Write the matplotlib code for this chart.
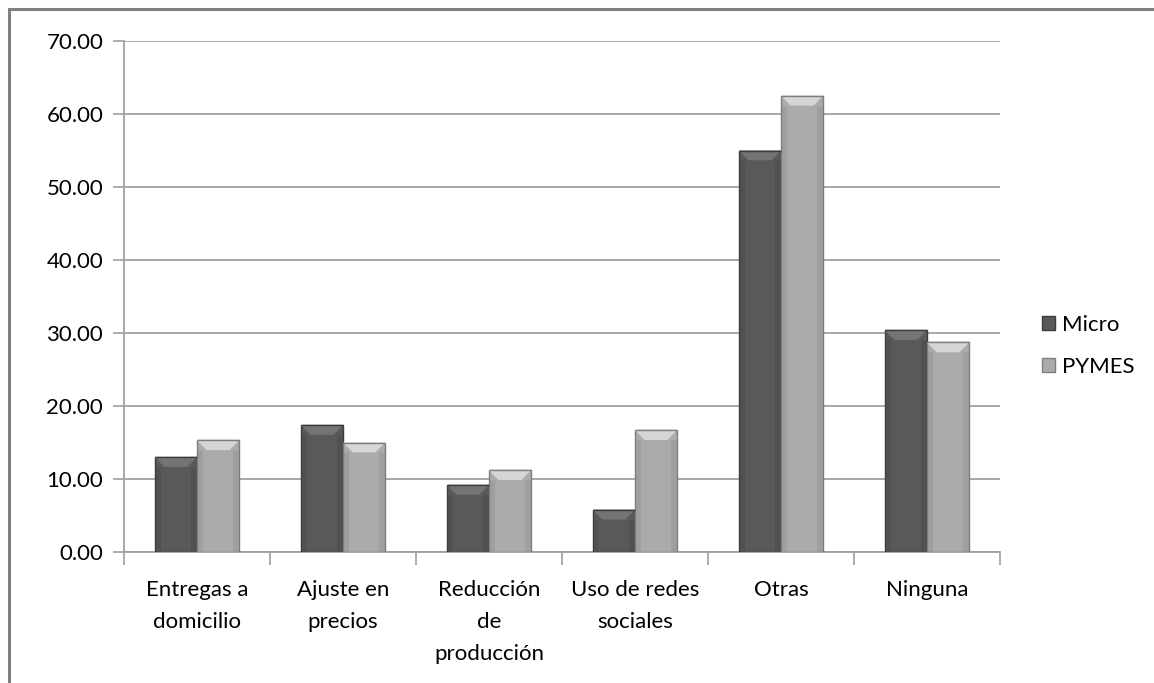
import matplotlib.pyplot as plt
import numpy as np
from matplotlib.patches import Polygon, Rectangle, Patch

plt.rcParams['font.family'] = ['Lato', 'DejaVu Sans']

categories = ["Entregas a\ndomicilio", "Ajuste en\nprecios", "Reducción\nde\nproducción",
              "Uso de redes\nsociales", "Otras", "Ninguna"]
micro = [13.0, 17.4, 9.2, 5.8, 55.0, 30.4]
pymes = [15.3, 15.0, 11.2, 16.7, 62.5, 28.7]
series = ["Micro", "PYMES"]

# face / bevel / edge colours per series
styles = {
    "Micro": ("#595959", "#747474", "#3c3c3c"),
    "PYMES": ("#ababab", "#d6d6d6", "#7e7e7e"),
}

fig = plt.figure(figsize=(11.54, 6.83), dpi=100)
ax = fig.add_axes([124 / 1154, 1 - 552 / 683, 876 / 1154, 511 / 683])

x = np.arange(len(categories))
width = 0.288


def bevel_bars(xs, values, name):
    face, light, edge = styles[name]
    bars = ax.bar(xs, values, width, color=face, edgecolor=edge, linewidth=1.0, zorder=3)
    for b in bars:
        x0, w, h = b.get_x(), b.get_width(), b.get_height()
        dx, dy = 0.065, 1.35
        top = Polygon([(x0, h), (x0 + w, h), (x0 + w - dx, h - dy), (x0 + dx, h - dy)],
                      closed=True, facecolor=light, edgecolor="none", zorder=4)
        ax.add_patch(top)
        # darker strip along the sides for the bevel look
        for sx in (x0, x0 + w - dx * 0.6):
            ax.add_patch(Rectangle((sx, 0), dx * 0.6, h - dy, facecolor=edge,
                                   alpha=0.25, edgecolor="none", zorder=4))
        ax.add_patch(Rectangle((x0, h), w, 0, edgecolor=edge, linewidth=1.0,
                               fill=False, zorder=5))
    return bars


bevel_bars(x - width / 2, micro, "Micro")
bevel_bars(x + width / 2, pymes, "PYMES")

ax.set_xlim(-0.5, len(categories) - 0.5)
ax.set_ylim(0, 70)
ax.set_yticks(np.arange(0, 71, 10))
ax.set_yticklabels([f"{v:.2f}" for v in np.arange(0, 71, 10)], fontsize=16)
ax.yaxis.grid(True, color="#a0a0a0", linewidth=1.3, zorder=0)
ax.set_axisbelow(True)

ax.set_xticks(x)
ax.set_xticklabels(categories, fontsize=16, linespacing=1.75)
ax.tick_params(axis="x", length=0, pad=20)
ax.set_xticks(np.arange(-0.5, len(categories), 1), minor=True)
ax.tick_params(axis="x", which="minor", length=9, width=1.2, color="#a0a0a0")
ax.tick_params(axis="y", length=8, width=1.2, color="#a0a0a0", pad=7)

for side in ("top", "right"):
    ax.spines[side].set_visible(False)
for side in ("left", "bottom"):
    ax.spines[side].set_color("#a0a0a0")
    ax.spines[side].set_linewidth(1.3)

handles = [Patch(facecolor=styles[s][0], edgecolor=styles[s][2]) for s in series]
fig.legend(handles, series, loc="center left", bbox_to_anchor=(1022 / 1154, 1 - 346 / 683),
           frameon=False, fontsize=16, handlelength=0.6, handleheight=0.6,
           handletextpad=0.3, labelspacing=1.0)

# chart frame
fig.patches.append(Rectangle((9 / 1154, -0.05), 1.2, 1 - 9 / 683 + 0.05,
                             transform=fig.transFigure, fill=False,
                             edgecolor="#808080", linewidth=2.2))

fig.savefig("out.png", dpi=100)
